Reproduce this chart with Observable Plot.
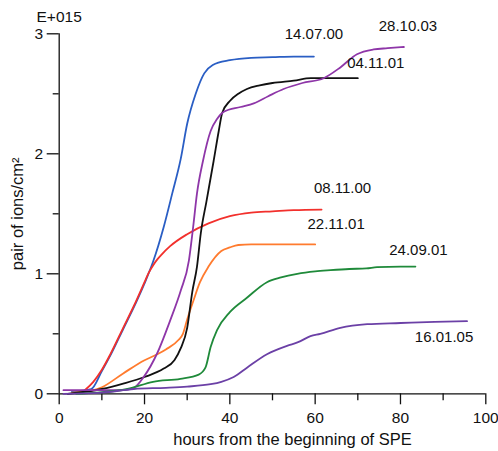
<!DOCTYPE html>
<html>
<head>
<meta charset="utf-8">
<script src="https://cdn.jsdelivr.net/npm/d3@7"></script>
<script src="https://cdn.jsdelivr.net/npm/@observablehq/plot@0.6"></script>
<style>
  html, body { margin: 0; padding: 0; background: #fff; }
  #chart svg { display: block; }
</style>
</head>
<body>
<div id="chart"></div>
<script>
// ---- data (hours from beginning of SPE, pair of ions/cm² in units of 1E+15) ----
const names = ["14.07.00", "08.11.00", "22.11.01", "04.11.01", "28.10.03", "24.09.01", "16.01.05"];

const h140700 = [3, 7.5, 10, 12, 15, 18, 20, 22, 24.5, 26.5, 28.5, 30, 32, 34, 36, 40, 45, 50, 55, 59.7];
const v140700 = [0.02, 0.04, 0.19, 0.32, 0.54, 0.76, 0.92, 1.1, 1.39, 1.67, 1.96, 2.25, 2.5, 2.67, 2.74, 2.78, 2.8, 2.805, 2.81, 2.81];

const h081100 = [6, 8, 10, 12, 15, 18, 20, 21, 22, 23, 24, 26, 30, 35, 40, 45, 50, 55, 61.5];
const v081100 = [0.03, 0.1, 0.2, 0.33, 0.55, 0.77, 0.93, 1.01, 1.07, 1.12, 1.16, 1.23, 1.33, 1.42, 1.48, 1.51, 1.52, 1.53, 1.535];

const h221101 = [3, 8, 10, 15, 20, 23, 25, 28, 29, 30, 31.5, 33, 35, 38, 40, 42, 45, 50, 55, 60];
const v221101 = [0.01, 0.03, 0.055, 0.17, 0.28, 0.33, 0.37, 0.45, 0.5, 0.62, 0.78, 0.93, 1.06, 1.19, 1.22, 1.24, 1.245, 1.245, 1.245, 1.245];

const h041101 = [2, 10, 15, 20, 24.5, 27, 28.5, 30, 31.2, 32.3, 33.2, 34.5, 36.2, 37.4, 38.2, 40, 42, 44, 47, 50, 55, 59, 65, 70];
const v041101 = [0.0, 0.04, 0.085, 0.14, 0.21, 0.28, 0.38, 0.55, 0.85, 1.06, 1.34, 1.6, 1.94, 2.19, 2.34, 2.44, 2.5, 2.54, 2.57, 2.59, 2.61, 2.63, 2.63, 2.63];

const h281003 = [1, 15, 17.5, 19.8, 23, 26, 28.5, 30.4, 31.4, 32.3, 33.7, 35.5, 37, 38.6, 42.5, 45.6, 49, 52.6, 57, 62, 65.9, 69.8, 73.7, 77, 80.8];
const v281003 = [0.03, 0.03, 0.05, 0.14, 0.34, 0.61, 0.86, 1.11, 1.39, 1.67, 1.94, 2.19, 2.29, 2.35, 2.39, 2.42, 2.48, 2.54, 2.59, 2.63, 2.72, 2.83, 2.87, 2.88, 2.89];

const h240901 = [4, 9, 16, 22, 28.4, 32.7, 34.3, 35.5, 37, 40, 44, 48.7, 52, 55.8, 60, 63.6, 68, 72, 74.5, 80, 83.5];
const v240901 = [0.0, 0.01, 0.04, 0.1, 0.125, 0.16, 0.22, 0.39, 0.53, 0.68, 0.8, 0.93, 0.97, 1.0, 1.02, 1.03, 1.04, 1.045, 1.055, 1.06, 1.06];

const h160105 = [1, 10, 17.5, 25, 30, 35.5, 38, 40.9, 44.1, 48.7, 53.4, 56, 58.9, 61.2, 65.9, 72.2, 80, 88, 95.6];
const v160105 = [0.0, 0.01, 0.04, 0.05, 0.06, 0.08, 0.1, 0.14, 0.22, 0.33, 0.4, 0.43, 0.48, 0.5, 0.55, 0.58, 0.59, 0.6, 0.605];

const xMajor = [0, 20, 40, 60, 80, 100];
const xMinor = [10, 30, 50, 70, 90];
const yMajor = [0, 1, 2, 3];
const yMinor = [0.5, 1.5, 2.5];
const exponentLabel = "E+015";
const xTitle = "hours from the beginning of SPE";
const yTitle = "pair of ions/cm²";

// ---- styling ----
const colors = {
  "14.07.00": "#2a5ec4",
  "08.11.00": "#f2302c",
  "22.11.01": "#ff7b2e",
  "04.11.01": "#111111",
  "28.10.03": "#8e36a8",
  "24.09.01": "#1f8a3a",
  "16.01.05": "#6b40a6"
};
const labelOffsets = {
  "14.07.00": [0, -22],
  "28.10.03": [4, -21],
  "04.11.01": [18, -15],
  "08.11.00": [21, -21],
  "22.11.01": [21, -20],
  "24.09.01": [3, -16],
  "16.01.05": [-23, 16]
};

const seriesHours = [h140700, h081100, h221101, h041101, h281003, h240901, h160105];
const seriesVals = [v140700, v081100, v221101, v041101, v281003, v240901, v160105];

const series = names.map((name, i) =>
  seriesHours[i].map((h, j) => ({name, hour: h, value: seriesVals[i][j]}))
);

const lineMarks = series.map(s =>
  Plot.line(s, {x: "hour", y: "value", stroke: colors[s[0].name], strokeWidth: 1.8, curve: "monotone-x"})
);
const labelMarks = series.map(s => {
  const last = s[s.length - 1];
  const [dx, dy] = labelOffsets[last.name];
  return Plot.text([last], {x: "hour", y: "value", text: "name", dx, dy,
    textAnchor: "middle", lineAnchor: "middle", fontSize: 15, fill: "#111"});
});

const font = "'Liberation Sans', Arial, Helvetica, sans-serif";

const chart = Plot.plot({
  width: 498,
  height: 451,
  marginLeft: 58.7,
  marginRight: 12.7,
  marginTop: 33.3,
  marginBottom: 57.7,
  style: {fontFamily: font, fontSize: "15.5px", color: "#111", background: "#fff"},
  x: {domain: [0, 100]},
  y: {domain: [0, 3]},
  marks: [
    Plot.axisX({ticks: xMajor, tickSize: 11, tickPadding: 7, tickFormat: d => String(d), label: null, fontSize: 15.5, strokeWidth: 1.3}),
    Plot.axisX({ticks: xMinor, tickSize: 7, tickFormat: () => "", label: null, strokeWidth: 1.3}),
    Plot.axisY({ticks: yMajor, tickSize: 12, tickPadding: 4, tickFormat: d => String(d), label: null, fontSize: 15.5, strokeWidth: 1.3}),
    Plot.axisY({ticks: yMinor, tickSize: 6, tickFormat: () => "", label: null, strokeWidth: 1.3}),
    Plot.ruleY([0], {stroke: "#111", strokeWidth: 1.3}),
    Plot.ruleX([0], {stroke: "#111", strokeWidth: 1.3}),
    ...lineMarks,
    ...labelMarks,
    Plot.text([exponentLabel], {frameAnchor: "top-left", textAnchor: "start", lineAnchor: "middle", dx: -22.7, dy: -16.3, fontSize: 15.5, fill: "#111"}),
    Plot.text([xTitle], {frameAnchor: "bottom", textAnchor: "middle", lineAnchor: "middle", dx: 20, dy: 46, fontSize: 16.5, fill: "#111"}),
    Plot.text([yTitle], {frameAnchor: "left", textAnchor: "middle", lineAnchor: "middle", rotate: -90, dx: -41, dy: 0, fontSize: 16.5, fill: "#111"})
  ]
});
document.getElementById("chart").appendChild(chart);
</script>
</body>
</html>
